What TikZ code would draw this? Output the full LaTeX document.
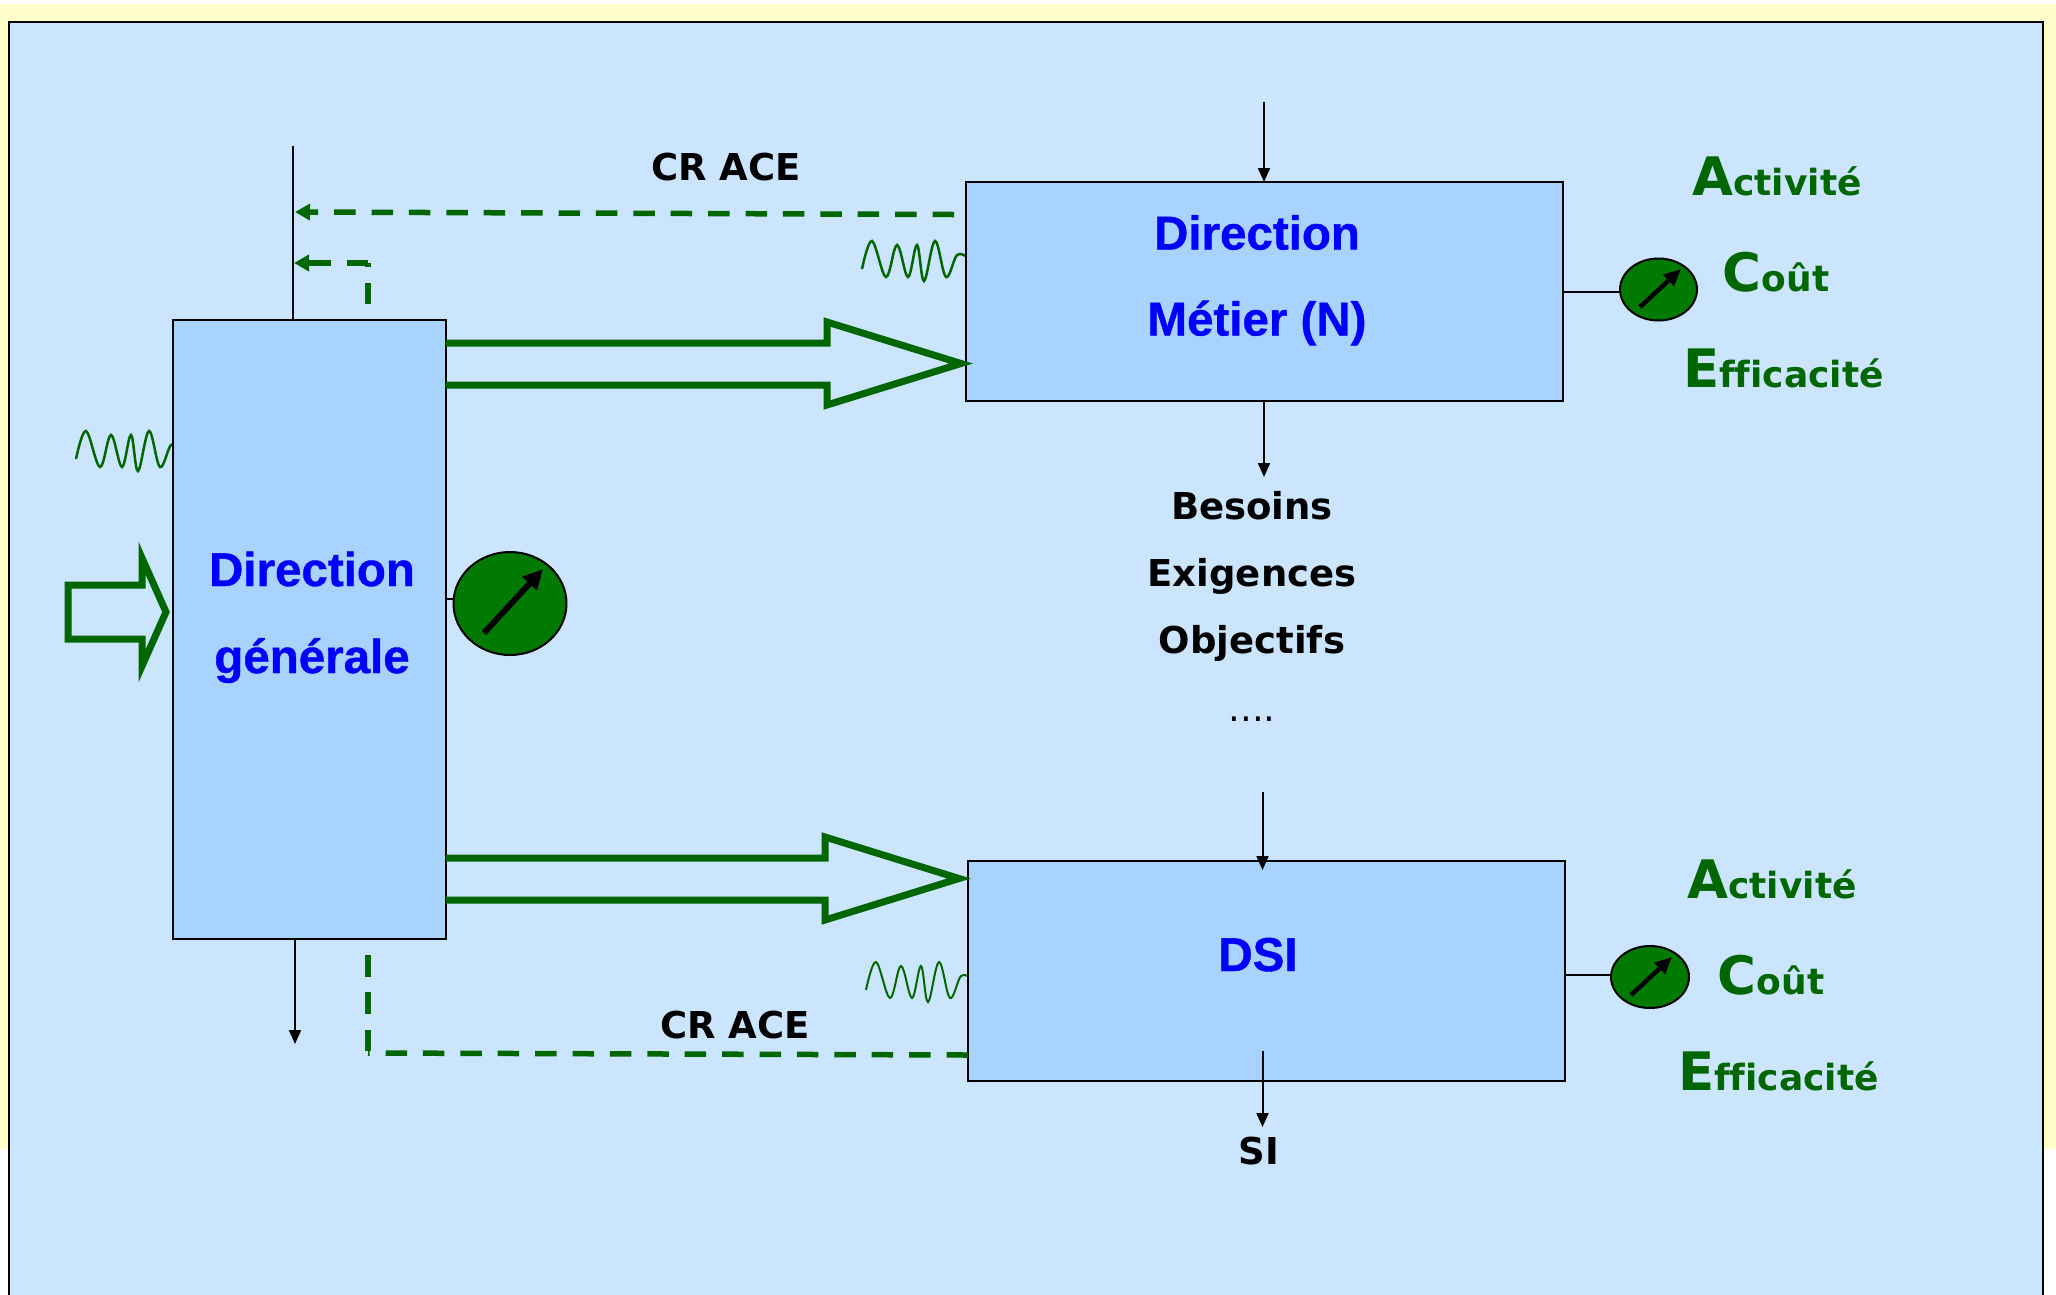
\documentclass[tikz,border=0pt]{standalone}
\usepackage{fontspec}
\setmainfont{Liberation Sans}
\newfontfamily\titlef{Liberation Sans Bold}[FakeBold=0.8]
\newfontfamily\verd{DejaVu Sans}[Ligatures=NoCommon]
\usetikzlibrary{arrows.meta,shapes.geometric}
\definecolor{bgyellow}{HTML}{FFFFCC}
\definecolor{panelblue}{HTML}{CCE5FF}
\definecolor{boxblue}{HTML}{A9D3FF}
\definecolor{dkgreen}{HTML}{006600}
\definecolor{gaugegreen}{HTML}{007A00}
\newcommand{\bigL}[1]{{\fontsize{53}{56}\selectfont #1}}
\tikzset{
  x=1pt,y=-1pt,
  box/.style={draw=black,line width=2pt,fill=boxblue,inner sep=0pt,outer sep=0pt},
  title/.style={anchor=base,inner sep=0pt,text=blue,font=\titlef\fontsize{47.5}{50}\selectfont},
  label/.style={anchor=base,inner sep=0pt,text=black,font=\verd\bfseries\fontsize{37}{40}\selectfont},
  ace/.style={anchor=base,inner sep=0pt,text=dkgreen,font=\verd\bfseries\fontsize{36}{39}\selectfont},
  flow/.style={draw=black,line width=2pt,-{Triangle[length=14pt,width=12pt]}},
  plain/.style={draw=black,line width=2pt},
  dashg/.style={draw=dkgreen,line width=5.5pt,dash pattern=on 21.5pt off 15.9pt},
  dasharrow/.style={dashg,-{Triangle[length=15pt,width=16pt,fill=dkgreen]}},
  hollow/.style={draw=dkgreen,line width=7pt,fill=none,miter limit=12},
  wave/.style={draw=dkgreen,line width=2.5pt},
  gauge/.style={ellipse,draw=black,line width=2pt,fill=gaugegreen,inner sep=0pt,outer sep=0pt},
  needle/.style={draw=black,line width=4.5pt,-{Triangle[length=17pt,width=15pt]}},
}
\newcommand{\wavepath}[3][wave]{\draw[#1,shift={(#2,#3)}] plot[smooth,tension=0.6] coordinates {(76,459) (86,431) (100,467) (111,435) (122,467) (131,435) (138,471) (149,431) (160,467) (171,445) (181,447)};}
\begin{document}
\begin{tikzpicture}
\useasboundingbox (0,0) rectangle (2056,1294);
\fill[white] (0,0) rectangle (2056,1294);
\fill[bgyellow] (0,4) rectangle (2056,1149);
\draw[fill=panelblue,draw=black,line width=2.5pt] (9,22) rectangle (2043,1300);

% waves
\wavepath{0}{0}
\wavepath{786}{-190}
\wavepath[wave,line width=2pt]{790}{531}

% boxes
\node[box,minimum width=273pt,minimum height=619pt] (dg) at (309.5,629.5) {};
\node[box,minimum width=597pt,minimum height=219pt] (met) at (1264.5,291.5) {};
\node[box,minimum width=597pt,minimum height=220pt] (dsi) at (1266.5,971) {};

% free ends
\coordinate (dgup) at (292.5,146);
\coordinate (dgdown) at (295,1044);
\coordinate (metin) at (1264,102);
\coordinate (metout) at (1264,477);
\coordinate (dsiin) at (1262.5,792);
\coordinate (dsitip) at (1262.5,870);
\coordinate (dsiout0) at (1262.5,1051);
\coordinate (dsiout) at (1262.5,1127);
\coordinate (d1tip) at (295,212);
\coordinate (d1start) at (954,214.5);
\coordinate (d2a) at (368,304);
\coordinate (d2b) at (368,263);
\coordinate (d2tip) at (294,263);
\coordinate (d3a) at (368,955);
\coordinate (d3b) at (368,1053);
\coordinate (d3c) at (968,1055);

% black connectors
\draw[plain] (dgup) -- (dgup |- dg.north);
\draw[flow] (dg.south -| dgdown) -- (dgdown);
\draw[flow] (metin) -- (metin |- met.north);
\draw[flow] (met.south -| metout) -- (metout);
\draw[flow] (dsiin) -- (dsitip);
\draw[flow] (dsiout0) -- (dsiout);

% dashed feedback
\draw[dasharrow] (d1start) -- (d1tip);
\draw[dashg] (d2a) -- (d2b);
\draw[dasharrow] (d2b) -- (d2tip);
\draw[dashg] (d3a) -- (d3b);
\draw[dashg] (d3c) -- (d3b);

% hollow arrows
\draw[hollow] (446,343) -- (827,343) -- (827,322) -- (961,363.5) -- (827,405) -- (827,385) -- (446,385);
\draw[hollow] (446,858) -- (825,858) -- (825,837) -- (959,878.5) -- (825,920) -- (825,900) -- (446,900);
\draw[hollow] (68,585) -- (142,585) -- (142,558) -- (166,612) -- (142,666) -- (142,639) -- (68,639) -- cycle;

% gauges
\node[gauge,minimum width=113pt,minimum height=103pt] (g1) at (510,603.5) {};
\node[gauge,minimum width=77pt,minimum height=62pt] (g2) at (1658.5,289.5) {};
\node[gauge,minimum width=78pt,minimum height=62pt] (g3) at (1650,977) {};
\draw[plain] (dg.east |- 0,599) -- (g1.west |- 0,599);
\draw[plain] (met.east |- 0,292) -- (g2.west |- 0,292);
\draw[plain] (dsi.east |- 0,975) -- (g3.west |- 0,975);
\draw[needle,line width=6pt,-{Triangle[length=20pt,width=19pt]}] (484,633) -- (543,569);
\draw[needle] (1640,307) -- (1681,269);
\draw[needle] (1631,995) -- (1672,957);

% titles
\node[title] (t1) at (312,586) {Direction};
\node[title] (t2) at (312,673) {générale};
\node[title] (t3) at (1257,249.5) {Direction};
\node[title] (t4) at (1257,335.5) {Métier (N)};
\node[title] (t5) at (1258,971) {DSI};

% labels
\node[label] (l1) at (726,180) {CR ACE};
\node[label] (l2) at (735,1038) {CR ACE};
\node[label] (l3) at (1252,519) {Besoins};
\node[label] (l4) at (1252,586) {Exigences};
\node[label] (l5) at (1252,653) {Objectifs};
\node[label,font=\verd\fontsize{37}{40}\selectfont] (l6) at (1252,721) {....};
\node[label] (l7) at (1259,1164) {SI};

% ACE
\node[ace] (a1) at (1777,195) {\bigL{A}ctivité};
\node[ace] (a2) at (1776,291) {\bigL{C}oût};
\node[ace] (a3) at (1783.5,387) {\bigL{E}fficacité};
\node[ace] (a4) at (1772,898) {\bigL{A}ctivité};
\node[ace] (a5) at (1771,994) {\bigL{C}oût};
\node[ace] (a6) at (1778.5,1090) {\bigL{E}fficacité};
\end{tikzpicture}
\end{document}
